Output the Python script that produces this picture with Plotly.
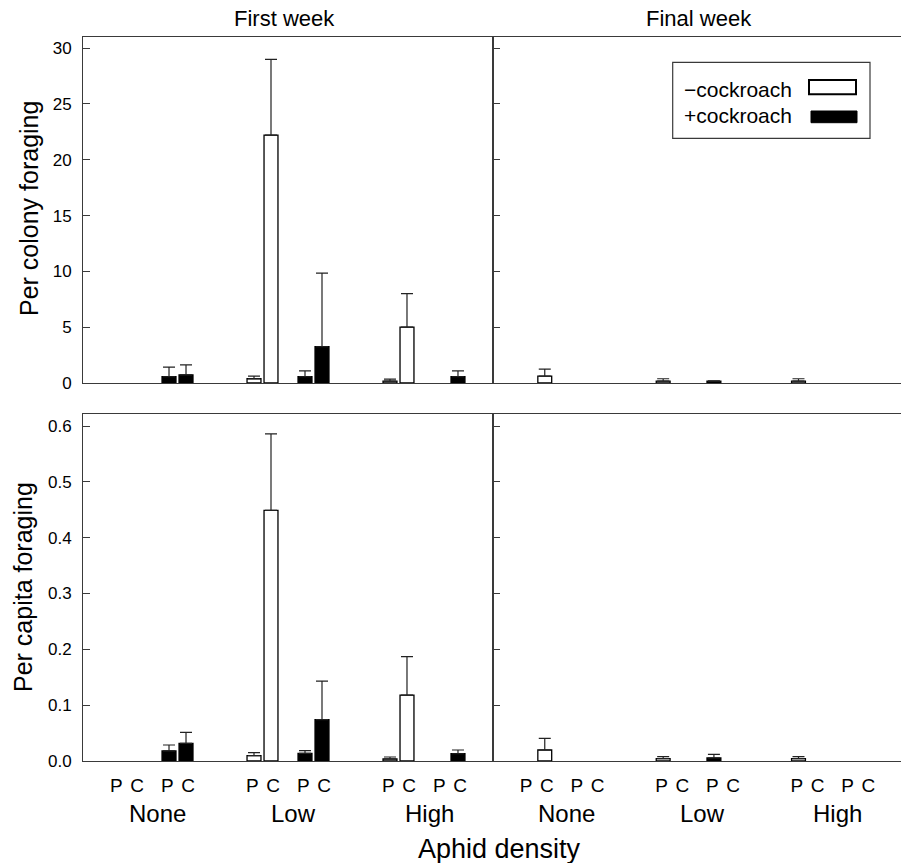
import plotly.graph_objects as go

# ---------------- data ----------------
groups = ["None", "Low", "High"]
pc_labels = ["P", "C"]
treatments = ["\u2212cockroach", "+cockroach"]

# order of each list: None-P, None-C, Low-P, Low-C, High-P, High-C
first_colony_minus = [None, None, 0.38, 22.2, 0.16, 5.0]
first_colony_minus_err = [0, 0, 0.23, 6.8, 0.18, 3.0]
first_colony_plus = [0.56, 0.73, 0.56, 3.25, None, 0.56]
first_colony_plus_err = [0.86, 0.90, 0.53, 6.6, 0, 0.53]

final_colony_minus = [None, 0.61, 0.16, None, 0.16, None]
final_colony_minus_err = [0, 0.63, 0.22, 0, 0.22, 0]
final_colony_plus = [None, None, 0.16, None, None, None]
final_colony_plus_err = [0, 0, 0.04, 0, 0, 0]

first_capita_minus = [None, None, 0.0095, 0.449, 0.0036, 0.118]
first_capita_minus_err = [0, 0, 0.0055, 0.137, 0.0036, 0.069]
first_capita_plus = [0.018, 0.0317, 0.0138, 0.074, None, 0.013]
first_capita_plus_err = [0.0107, 0.0197, 0.0047, 0.069, 0, 0.0067]

final_capita_minus = [None, 0.0197, 0.0041, None, 0.0041, None]
final_capita_minus_err = [0, 0.021, 0.0036, 0, 0.0036, 0]
final_capita_plus = [None, None, 0.0054, None, None, None]
final_capita_plus_err = [0, 0, 0.0066, 0, 0, 0]

colony_ticks = [0, 5, 10, 15, 20, 25, 30]
capita_ticks = [0.0, 0.1, 0.2, 0.3, 0.4, 0.5, 0.6]

# ---------------- layout helpers ----------------
GROUP_STEP = 8
TREAT_STEP = 3
FONT = "Liberation Sans, Arial, sans-serif"
LINE = "#3a3a3a"

W, H = 901, 863
L, R, T, B = 83, 901, 37, 761


def px(x):
    return (x - L) / (R - L)


def py(y):
    return (B - y) / (B - T)


def slot_x(t):
    return [g * GROUP_STEP + t * TREAT_STEP + p for g in range(len(groups)) for p in range(len(pc_labels))]


XRANGE = [-2.06, 22.06]
split = px(493)
top_dom = [py(383), 1.0]
bot_dom = [0.0, py(414.3)]

fig = go.Figure()

panels = [
    ("x", "y", first_colony_minus, first_colony_minus_err, first_colony_plus, first_colony_plus_err),
    ("x2", "y2", final_colony_minus, final_colony_minus_err, final_colony_plus, final_colony_plus_err),
    ("x3", "y3", first_capita_minus, first_capita_minus_err, first_capita_plus, first_capita_plus_err),
    ("x4", "y4", final_capita_minus, final_capita_minus_err, final_capita_plus, final_capita_plus_err),
]

for xa, ya, vm, em, vp, ep in panels:
    for t, (vals, errs, fill) in enumerate([(vm, em, "white"), (vp, ep, "black")]):
        fig.add_trace(go.Bar(
            x=slot_x(t), y=vals, width=0.82,
            xaxis=xa, yaxis=ya,
            marker=dict(color=fill, line=dict(color="black", width=1.3)),
            error_y=dict(type="data", symmetric=False, array=errs,
                         arrayminus=[0] * len(errs), color="#222",
                         thickness=1.2, width=6),
            name=treatments[t], showlegend=False, hoverinfo="y",
        ))

# tick labels P / C under bottom panels
tickvals, ticktext = [], []
for t in range(len(treatments)):
    for i, x in enumerate(slot_x(t)):
        p = i % 2
        tickvals.append(x + (-0.1 if p == 0 else 0.13))
        ticktext.append(pc_labels[p])

common_x = dict(range=XRANGE, showline=True, linecolor=LINE, linewidth=1,
                mirror=True, showgrid=False, zeroline=False, fixedrange=True)
common_y = dict(showline=True, linecolor=LINE, linewidth=1, mirror=True,
                showgrid=False, zeroline=False, ticks="inside", ticklen=7,
                tickcolor=LINE, tickwidth=1, fixedrange=True)

fig.update_layout(
    width=W, height=H, autosize=False,
    margin=dict(l=L, r=W - R, t=T, b=H - B),
    paper_bgcolor="white", plot_bgcolor="white",
    barmode="overlay",
    font=dict(family=FONT, color="black"),
    xaxis=dict(domain=[0, split], anchor="y", showticklabels=False, ticks="", **common_x),
    yaxis=dict(domain=top_dom, anchor="x", range=[0, 31], tickvals=colony_ticks,
               tickfont=dict(size=17), ticklabelstandoff=7, **common_y),
    xaxis2=dict(domain=[split, 1], anchor="y2", showticklabels=False, ticks="", **common_x),
    yaxis2=dict(domain=top_dom, anchor="x2", range=[0, 31], tickvals=colony_ticks,
                showticklabels=False, **common_y),
    xaxis3=dict(domain=[0, split], anchor="y3", tickvals=tickvals, ticktext=ticktext,
                ticks="", tickfont=dict(size=19), ticklabelstandoff=7, **common_x),
    yaxis3=dict(domain=bot_dom, anchor="x3", range=[0, 0.621], tickvals=capita_ticks,
                tickformat=".1f", tickfont=dict(size=17), ticklabelstandoff=7, **common_y),
    xaxis4=dict(domain=[split, 1], anchor="y4", tickvals=tickvals, ticktext=ticktext,
                ticks="", tickfont=dict(size=19), ticklabelstandoff=7, **common_x),
    yaxis4=dict(domain=bot_dom, anchor="x4", range=[0, 0.621], tickvals=capita_ticks,
                showticklabels=False, **common_y),
)

ann = []
# panel titles
ann.append(dict(text="First week", x=px(284), y=py(18), xref="paper", yref="paper",
                showarrow=False, font=dict(size=22), xanchor="center", yanchor="middle"))
ann.append(dict(text="Final week", x=px(699), y=py(18), xref="paper", yref="paper",
                showarrow=False, font=dict(size=22), xanchor="center", yanchor="middle"))
# y titles
ann.append(dict(text="Per colony foraging", x=px(29), y=py(209), xref="paper", yref="paper",
                showarrow=False, textangle=-90, font=dict(size=25), xanchor="center", yanchor="middle"))
ann.append(dict(text="Per capita foraging", x=px(23), y=py(587), xref="paper", yref="paper",
                showarrow=False, textangle=-90, font=dict(size=25), xanchor="center", yanchor="middle"))
# group labels under bottom panels
for xa in ["x3", "x4"]:
    for g, name in enumerate(groups):
        xs = [g * GROUP_STEP + t * TREAT_STEP + p for t in range(2) for p in range(2)]
        ann.append(dict(text=name, x=sum(xs) / len(xs) + 0.3, y=py(813), xref=xa, yref="paper",
                        showarrow=False, font=dict(size=24), xanchor="center", yanchor="middle"))
# x title
ann.append(dict(text="Aphid density", x=px(499), y=py(849), xref="paper", yref="paper",
                showarrow=False, font=dict(size=27), xanchor="center", yanchor="middle"))
# legend texts
ann.append(dict(text=treatments[0], x=px(682), y=py(89), xref="paper", yref="paper",
                showarrow=False, font=dict(size=21), xanchor="left", yanchor="middle"))
ann.append(dict(text=treatments[1], x=px(682), y=py(115), xref="paper", yref="paper",
                showarrow=False, font=dict(size=21), xanchor="left", yanchor="middle"))
fig.update_layout(annotations=ann)

shapes = [
    dict(type="rect", xref="paper", yref="paper", x0=px(672.7), x1=px(870), y0=py(138.3), y1=py(62.3),
         line=dict(color=LINE, width=1.2), fillcolor="white", layer="above"),
    dict(type="rect", xref="paper", yref="paper", x0=px(809), x1=px(856), y0=py(94.3), y1=py(80),
         line=dict(color="black", width=2), fillcolor="white", layer="above"),
    dict(type="rect", xref="paper", yref="paper", x0=px(811), x1=px(857), y0=py(122.7), y1=py(111),
         line=dict(color="black", width=1), fillcolor="black", layer="above"),
]
fig.update_layout(shapes=shapes)

fig.write_html(
    "out.html",
    config={"responsive": False, "displayModeBar": False},
    post_script="document.body.style.margin='0';document.body.style.overflow='hidden';",
)
